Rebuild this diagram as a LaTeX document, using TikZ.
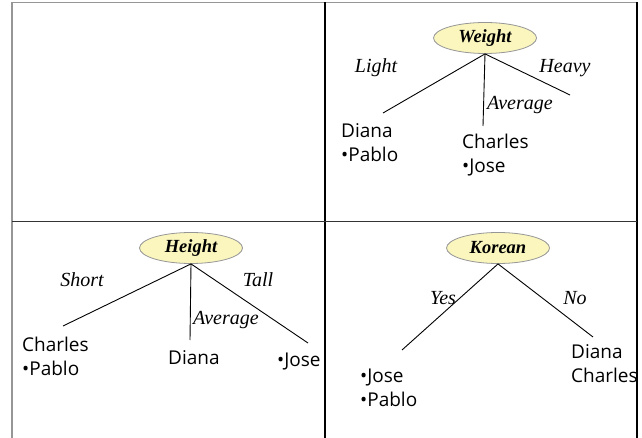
\documentclass[tikz,border=0pt]{standalone}
\usepackage{fontspec}
\setmainfont{Liberation Serif}
\newfontfamily\leaffont{Open Sans}
\usetikzlibrary{shapes.geometric}
\definecolor{ellfill}{RGB}{250,246,190}
\definecolor{ellline}{RGB}{150,150,150}
\definecolor{gridgray}{RGB}{150,150,150}
\tikzset{
  attr/.style={ellipse, draw=ellline, fill=ellfill, line width=0.8pt, minimum width=103pt, minimum height=31pt, inner sep=0pt, font=\fontsize{18.5}{20}\selectfont\itshape\bfseries},
  lbl/.style={inner sep=0pt, font=\fontsize{20}{22}\selectfont\itshape},
  leaf/.style={inner sep=0pt, anchor=west, align=left, font=\leaffont\fontsize{19}{24}\selectfont},
  branch/.style={line width=0.9pt, black}
}
\begin{document}
\begin{tikzpicture}[x=1pt,y=-1pt]
\useasboundingbox (0,0) rectangle (642,438);
% table frame
\draw[gridgray, line width=1.5pt] (12,438) -- (12,2.5) -- (638,2.5);
\draw[black, line width=1.5pt] (637,2.5) -- (637,438);
\draw[black, line width=1.5pt] (325,2.5) -- (325,438);
\draw[black!80, line width=1.5pt] (12,221.5) -- (637,221.5);

% Weight tree
\node[attr] (w) at (485,38) {Weight};
\coordinate (wl) at (383,113);
\coordinate (wm) at (483,126);
\coordinate (wr) at (570,95);
\draw[branch] (w.south) -- (wl);
\draw[branch] (w.south) -- (wm);
\draw[branch] (w.south) -- (wr);
\node[lbl] (wlt) at (376,68) {Light};
\node[lbl] (wrt) at (565,68) {Heavy};
\node[lbl, anchor=west] (wmt) at (487,105) {Average};
\node[leaf] (wleaf1) at (341,143) {Diana\\•Pablo};
\node[leaf] (wleaf2) at (462,155) {Charles\\•Jose};

% Height tree
\node[attr] (h) at (191,248) {Height};
\coordinate (hl) at (63,326);
\coordinate (hm) at (190,340);
\coordinate (hr) at (308,343);
\draw[branch] (h.south) -- (hl);
\draw[branch] (h.south) -- (hm);
\draw[branch] (h.south) -- (hr);
\node[lbl] (hlt) at (82,280) {Short};
\node[lbl] (hrt) at (258,280) {Tall};
\node[lbl, anchor=west] (hmt) at (193,320) {Average};
\node[leaf] (hleaf1) at (22,356.5) {Charles\\•Pablo};
\node[leaf] (hleaf2) at (168,358) {Diana};
\node[leaf] (hleaf3) at (277,362) {•Jose};

% Korean tree
\node[attr] (k) at (498,248) {Korean};
\coordinate (kl) at (402,350);
\coordinate (kr) at (593,337);
\draw[branch] (k.south) -- (kl);
\draw[branch] (k.south) -- (kr);
\node[lbl] (klt) at (443,298) {Yes};
\node[lbl] (krt) at (575,298) {No};
\node[leaf] (kleaf1) at (360,387.5) {•Jose\\•Pablo};
\node[leaf] (kleaf2) at (571,364) {Diana\\Charles};
\end{tikzpicture}
\end{document}
